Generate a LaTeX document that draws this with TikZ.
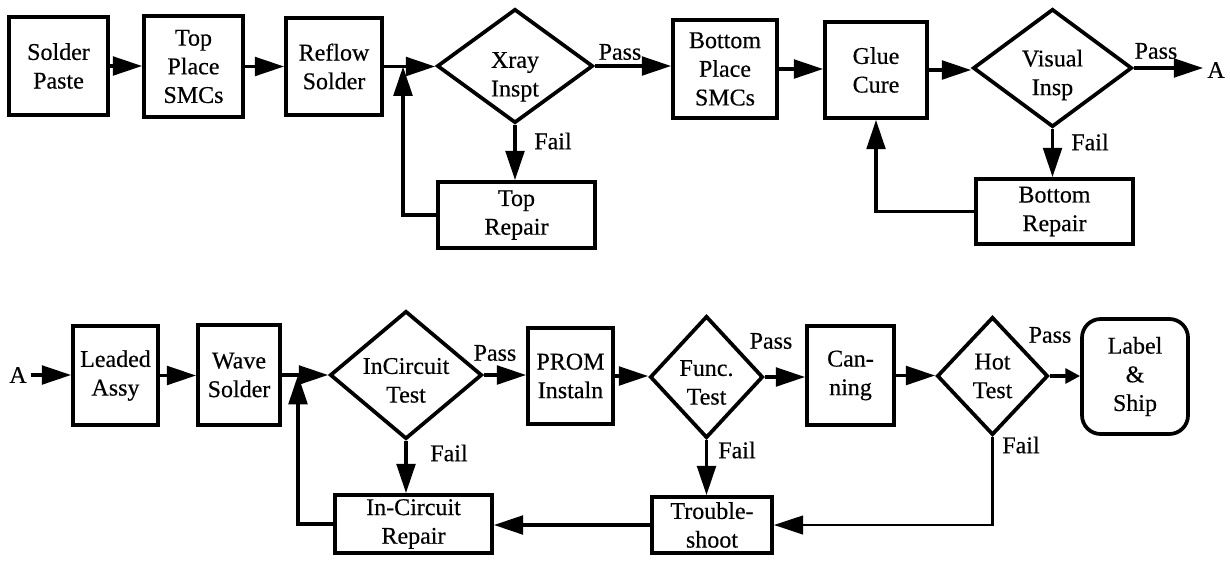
\documentclass[tikz,border=0pt]{standalone}
\usepackage{fontspec}
\setmainfont{Liberation Serif}[FakeBold=0.4]
\usetikzlibrary{arrows.meta,shapes.geometric}
% strut that lowers the text of a decision node
\newcommand\dropstrut[1]{\rule{0pt}{#1}}
\begin{document}
\begin{tikzpicture}[x=0.75pt,y=-0.75pt,
  every node/.style={font=\fontsize{18}{21.5}\selectfont},
  stepbox/.style 2 args={draw, line width=2.8pt, minimum width=#1*0.75pt,
    minimum height=#2*0.75pt, inner sep=0pt, align=center},
  decision/.style n args={3}{draw, diamond, line width=2.8pt, minimum width=#1*0.75pt,
    minimum height=#2*0.75pt, aspect=#3, inner sep=-3pt, align=center},
  lbl/.style={inner sep=3pt},
  flow/.style={line width=2.6pt, -{Triangle[length=22pt,width=14pt]}},
  smallflow/.style={line width=2.6pt, -{Triangle[length=11pt,width=11pt]}},
  thinflow/.style={line width=1.7pt, -{Triangle[length=22pt,width=14pt]}}]
\useasboundingbox (0,0) rectangle (1230,561);

% ---- surface-mount line ----
\node[stepbox={99}{98}]  (sp) at (58.5,66)   {Solder\\Paste};
\node[stepbox={99}{101}] (tp) at (193.5,66.5) {Top\\Place\\SMCs};
\node[stepbox={96}{97}]  (rs) at (334,66.5)  {Reflow\\Solder};
\coordinate (j1) at (403,66.5);
\node[decision={156}{114}{1.37}] (xr) at (515,66) {\dropstrut{28pt}Xray\\Inspt};
\node[stepbox={104}{98}] (bp) at (725,69)    {Bottom\\Place\\SMCs};
\node[stepbox={102}{96}] (gc) at (876,70)    {Glue\\Cure};
\node[decision={159}{118}{1.35}] (vi) at (1052.5,68) {\dropstrut{23pt}Visual\\Insp};
\node[lbl] (aout) at (1216,70) {A};
\node[stepbox={157}{66}] (tr) at (516.5,215)  {Top\\Repair};
\node[stepbox={157}{65}] (br) at (1054.5,211.5) {Bottom\\Repair};

\node[lbl] (xrpass) at (620,52)   {Pass};
\node[lbl] (xrfail) at (553,141)  {Fail};
\node[lbl] (vipass) at (1156,51)  {Pass};
\node[lbl] (vifail) at (1090,142) {Fail};

\draw[flow] (sp.east) -- (sp.east -| tp.west);
\draw[flow] (tp.east) -- (tp.east -| rs.west);
\draw[flow] (rs.east) -- (rs.east -| xr.west);
\draw[flow] (xr.east) -- (xr.east -| bp.west);
\draw[flow] (bp.east) -- (bp.east -| gc.west);
\draw[flow] (gc.east) -- (gc.east -| vi.west);
\draw[flow] (vi.east) -- (vi.east -| aout.west);
\draw[flow] (xr.south) -- (xr.south |- tr.north);
\draw[flow] (vi.south) -- (vi.south |- br.north);
\draw[flow] (tr.west) -| (j1);
\draw[flow] (br.west) -| (gc.south);

% ---- through-hole, test and ship line ----
\node[lbl] (ain) at (18,375) {A};
\node[stepbox={85}{99}]  (la) at (115.5,375.5) {Leaded\\Assy};
\node[stepbox={82}{100}] (ws) at (239,375)   {Wave\\Solder};
\coordinate (j2) at (298,375);
\node[decision={152}{128}{1.19}] (ic) at (406,375) {\dropstrut{20pt}InCircuit\\Test};
\node[stepbox={85}{96}]  (pr) at (570.5,376) {PROM\\Instaln};
\node[decision={113}{122}{0.93}] (ft) at (706.5,377) {\dropstrut{20pt}Func.\\Test};
\node[stepbox={87}{99}]  (cn) at (850.5,375.5) {Can-\\ning};
\node[decision={111}{118}{0.94}] (ht) at (992.5,376) {Hot\\Test};
\node[stepbox={106}{115}, rounded corners=14pt] (ls) at (1135,376.5) {Label\\\&\\Ship};
\node[stepbox={157}{58}] (ir) at (413.5,524) {In-Circuit\\Repair};
\node[stepbox={120}{56}] (tb) at (712,525)   {Trouble-\\shoot};

\node[lbl] (icpass) at (495,353)  {Pass};
\node[lbl] (icfail) at (449,453)  {Fail};
\node[lbl] (ftpass) at (771,341)  {Pass};
\node[lbl] (ftfail) at (737,450)  {Fail};
\node[lbl] (htpass) at (1050,335) {Pass};
\node[lbl] (htfail) at (1021,445) {Fail};

\draw[flow] (ain.east) -- (ain.east -| la.west);
\draw[flow] (la.east) -- (la.east -| ws.west);
\draw[flow] (ws.east) -- (ws.east -| ic.west);
\draw[flow] (ic.east) -- (ic.east -| pr.west);
\draw[flow] (pr.east) -- (pr.east -| ft.west);
\draw[flow] (ft.east) -- (ft.east -| cn.west);
\draw[flow] (cn.east) -- (cn.east -| ht.west);
\draw[smallflow] (ht.east) -- (ht.east -| ls.west);
\draw[flow] (ic.south) -- (ic.south |- ir.north);
\draw[flow] (ft.south) -- (ft.south |- tb.north);
\draw[thinflow] (ht.south) |- (tb.east);
\draw[flow] (tb.west) -- (tb.west -| ir.east);
\draw[flow] (ir.west) -| (j2);
\end{tikzpicture}
\end{document}
